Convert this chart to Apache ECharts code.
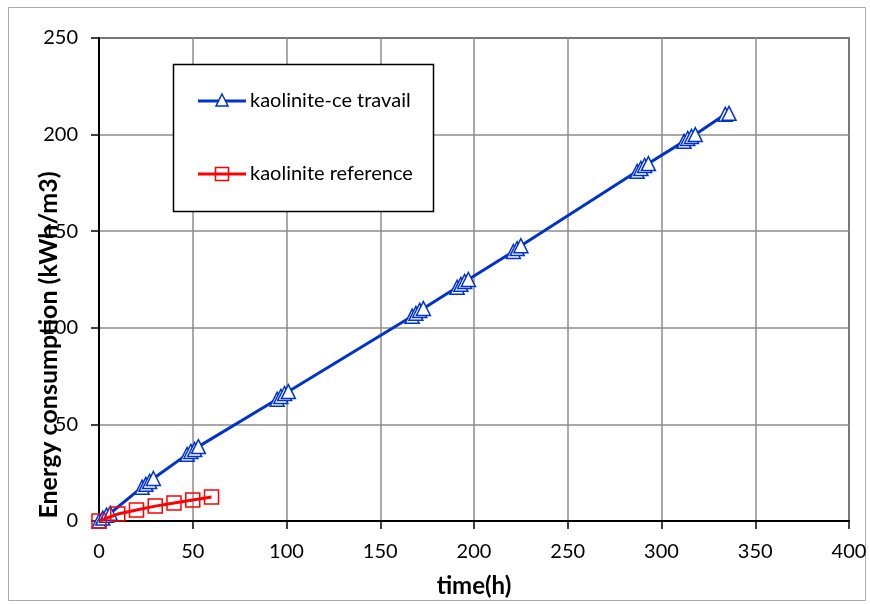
<!DOCTYPE html>
<html><head><meta charset="utf-8">
<script src="https://cdn.jsdelivr.net/npm/echarts@6/dist/echarts.min.js"></script>
<style>html,body{margin:0;padding:0;background:#fff}#c{width:870px;height:604px}</style>
</head><body><div id="c"></div>
<script>
var blueTime = [0, 2, 4, 6, 23, 25, 27, 29, 47, 49, 51, 53, 95, 97, 99, 101, 167, 169, 171, 173, 191, 193, 195, 197, 221, 223, 225, 287, 289, 291, 293, 312, 314, 316, 318, 334, 336];
var blueEnergy = [0, 1.5, 3, 4, 17.5, 19, 20.5, 22, 34.5, 36, 37, 38.5, 63, 64.5, 66, 67, 106, 107.5, 109, 110, 121, 122.5, 124, 125, 139.5, 141, 142.5, 181, 182.5, 184, 185, 196.5, 198, 199, 200, 210.5, 211];
var redTime = [0, 10, 20, 30, 40, 50, 60];
var redEnergy = [0, 3.6, 5.7, 7.7, 9.3, 10.9, 12.4];
var seriesNames = ['kaolinite-ce travail', 'kaolinite reference'];
var xTicks = [0, 400, 50];
var yTicks = [0, 250, 50];

function pairs(a, b) { return a.map(function (v, i) { return [v, b[i]]; }); }
var FONT = 'Lato';
var chart = echarts.init(document.getElementById('c'));
chart.setOption({
  animation: false,
  backgroundColor: '#fff',
  grid: { left: 99, right: 21, top: 38, bottom: 83, containLabel: false, outerBoundsMode: 'none', show: true, borderColor: '#000', borderWidth: 1.5, backgroundColor: 'transparent' },
  xAxis: {
    type: 'value', min: xTicks[0], max: xTicks[1], interval: xTicks[2],
    axisLine: { show: true, lineStyle: { color: '#000', width: 2 } },
    axisTick: { show: true, inside: false, length: 8, lineStyle: { color: '#000', width: 1.5 } },
    axisLabel: { fontFamily: FONT, fontSize: 20, color: '#000', margin: 21 },
    splitLine: { show: true, lineStyle: { color: '#8c8c8c', width: 1.5 } }
  },
  yAxis: {
    type: 'value', min: yTicks[0], max: yTicks[1], interval: yTicks[2],
    axisLine: { show: true, lineStyle: { color: '#000', width: 2 } },
    axisTick: { show: true, inside: false, length: 8, lineStyle: { color: '#000', width: 1.5 } },
    axisLabel: { fontFamily: FONT, fontSize: 20, color: '#000', margin: 21 },
    splitLine: { show: true, lineStyle: { color: '#8c8c8c', width: 1.5 } }
  },
  legend: { show: false },
  graphic: [
    { type: 'rect', shape: { x: 8.5, y: 7.5, width: 857, height: 593 }, style: { fill: 'none', stroke: '#aaa', lineWidth: 1 }, z: -1, silent: true },
    { type: 'text', x: 49, y: 345, rotation: Math.PI / 2, style: { text: 'Energy consumption (kWh/m3)', fontFamily: FONT, fontSize: 25, fontWeight: 'bold', fill: '#000', align: 'center', verticalAlign: 'middle' }, z: 10 },
    { type: 'text', x: 474, y: 586, style: { text: 'time(h)', fontFamily: FONT, fontSize: 24, fontWeight: 'bold', fill: '#000', align: 'center', verticalAlign: 'middle' }, z: 10 },
    { type: 'rect', shape: { x: 173.5, y: 64.5, width: 260, height: 147 }, style: { fill: '#fff', stroke: '#000', lineWidth: 1.5 }, z: 20 },
    { type: 'line', shape: { x1: 198, y1: 101, x2: 246, y2: 101 }, style: { stroke: '#0033cc', lineWidth: 3 }, z: 21 },
    { type: 'polygon', shape: { points: [[222, 94], [228, 106], [216, 106]] }, style: { fill: '#fff', stroke: '#0033cc', lineWidth: 1.5 }, z: 22 },
    { type: 'text', x: 250, y: 101, style: { text: seriesNames[0], fontFamily: FONT, fontSize: 20, fill: '#000', verticalAlign: 'middle' }, z: 22 },
    { type: 'line', shape: { x1: 198, y1: 174, x2: 246, y2: 174 }, style: { stroke: '#ff0000', lineWidth: 3 }, z: 21 },
    { type: 'rect', shape: { x: 215.5, y: 167.5, width: 13, height: 13 }, style: { fill: 'none', stroke: '#ff0000', lineWidth: 1.5 }, z: 22 },
    { type: 'text', x: 250, y: 174, style: { text: seriesNames[1], fontFamily: FONT, fontSize: 20, fill: '#000', verticalAlign: 'middle' }, z: 22 }
  ],
  series: [
    {
      name: seriesNames[0], type: 'line', data: pairs(blueTime, blueEnergy),
      symbol: 'triangle', symbolSize: 14, showAllSymbol: true,
      lineStyle: { color: '#0033cc', width: 3 },
      itemStyle: { color: '#fff', borderColor: '#0033cc', borderWidth: 1.5 }, z: 3
    },
    {
      name: seriesNames[1], type: 'line', data: pairs(redTime, redEnergy),
      symbol: 'rect', symbolSize: 14, showAllSymbol: true,
      lineStyle: { color: '#ff0000', width: 3 },
      itemStyle: { color: 'rgba(255,255,255,0)', borderColor: '#ff0000', borderWidth: 1.5 }, z: 4
    }
  ]
});
</script></body></html>
